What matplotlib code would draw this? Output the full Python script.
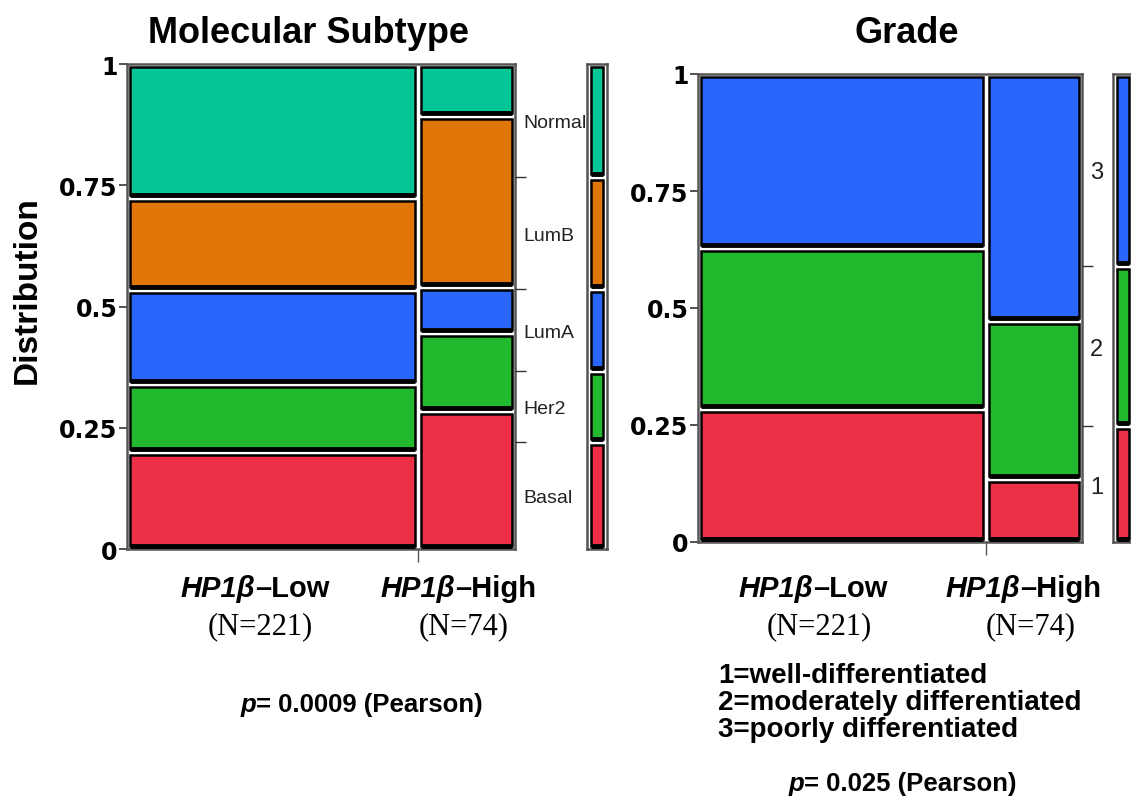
import numpy as np
import matplotlib
matplotlib.use("Agg")
import matplotlib.pyplot as plt

plt.rcParams["font.family"] = ["Liberation Sans", "DejaVu Sans"]

# counts per column (HP1b-Low, HP1b-High), stacked bottom -> top
group_n = np.array([221, 74])
subtype_names = ["Basal", "Her2", "LumA", "LumB", "Normal"]
subtype_low = [44, 31, 43, 42, 61]
subtype_high = [21, 12, 7, 26, 8]
grade_names = ["1", "2", "3"]
grade_low = [63, 76, 82]
grade_high = [10, 25, 39]

subtype_colors = ["#ee3046", "#22b92f", "#2866fc", "#e27507", "#03c595"]
grade_colors = ["#ee3046", "#22b92f", "#2866fc"]

yticks = [0, 0.25, 0.5, 0.75, 1]
yticklabels = ["0", "0.25", "0.5", "0.75", "1"]

W, H = 1131, 804
fig = plt.figure(figsize=(W / 100, H / 100), dpi=100)


def px_rect(l, t, r, b):
    return [l / W, 1 - b / H, (r - l) / W, (b - t) / H]


def fx(x):
    return x / W


def fy(y):
    return 1 - y / H


def style_frame(ax):
    for s in ax.spines.values():
        s.set_color("#555555")
        s.set_linewidth(1.8)
    ax.set_xlim(0, 1)
    ax.set_ylim(0, 1)


def draw_cell(ax, x0, w, y0, h, color, gx, gy):
    ax.bar(x0 + gx, h - 2 * gy, width=w - 2 * gx, bottom=y0 + gy, align="edge",
           color=color, edgecolor="black", linewidth=1.8, zorder=2)
    ax.plot([x0 + gx, x0 + w - gx], [y0 + gy, y0 + gy], color="black",
            lw=3.5, solid_capstyle="butt", zorder=3)


def mosaic(ax, columns, colors, names, pxw, pxh, label_size):
    style_frame(ax)
    gx = 3.0 / pxw
    gy = 3.0 / pxh
    widths = group_n / group_n.sum()
    x0 = 0
    for j, col in enumerate(columns):
        fr = np.array(col) / np.sum(col)
        y0 = 0
        for i, f in enumerate(fr):
            draw_cell(ax, x0, widths[j], y0, f, colors[i], gx, gy)
            y0 += f
        x0 += widths[j]

    ax.set_yticks(yticks)
    ax.set_yticklabels(yticklabels, fontfamily="DejaVu Sans", fontweight="bold", fontsize=17)
    ax.tick_params(axis="y", length=6, width=1.2, color="#333333", pad=1)
    ax.set_xticks([widths[0]])
    ax.set_xticklabels([])
    ax.tick_params(axis="x", length=9, width=1.0, color="#555555")

    # overall margins for right-side labels
    total = np.sum(columns, axis=0)
    marg = total / total.sum()
    cum = np.cumsum(marg)
    mids = cum - marg / 2
    ax_r = ax.twinx()
    ax_r.set_ylim(0, 1)
    for s in ax_r.spines.values():
        s.set_visible(False)
    ax_r.set_yticks(cum[:-1])
    ax_r.set_yticklabels([])
    ax_r.tick_params(axis="y", which="major", length=8, width=1.0, color="#333333")
    ax_r.set_yticks(mids, minor=True)
    ax_r.set_yticklabels(names, minor=True, fontsize=label_size, color="#222222")
    ax_r.tick_params(axis="y", which="minor", length=0, pad=6)
    return marg


def strip(ax, marg, colors, pxw, pxh):
    style_frame(ax)
    ax.set_xticks([])
    ax.set_yticks([])
    gx = 4.0 / pxw
    gy = 3.0 / pxh
    y0 = 0
    for i, f in enumerate(marg):
        draw_cell(ax, 0, 1, y0, f, colors[i], gx, gy)
        y0 += f


# left panel: molecular subtype
ax1 = fig.add_axes(px_rect(127, 65, 515, 550))
m1 = mosaic(ax1, [subtype_low, subtype_high], subtype_colors, subtype_names, 388, 485, 14)
s1 = fig.add_axes(px_rect(587, 65, 607, 550))
strip(s1, m1, subtype_colors, 20, 485)

# right panel: grade
ax2 = fig.add_axes(px_rect(698, 75, 1082, 543))
m2 = mosaic(ax2, [grade_low, grade_high], grade_colors, grade_names, 384, 468, 17)
s2 = fig.add_axes(px_rect(1113, 75, 1133, 543))
strip(s2, m2, grade_colors, 20, 468)

# titles and axis label
fig.text(fx(308), fy(43), "Molecular Subtype", ha="center", va="baseline",
         fontsize=26, fontweight="bold")
fig.text(fx(907), fy(43), "Grade", ha="center", va="baseline",
         fontsize=26, fontweight="bold")
fig.text(fx(27), fy(290), "Distribution", ha="center", va="center", rotation=90,
         fontsize=24, fontweight="bold")

# group labels
for split, rest in [(255, "–Low"), (455, "–High"), (813, "–Low"), (1020, "–High")]:
    fig.text(fx(split), fy(597), "HP1β", ha="right", va="baseline", fontsize=21,
             fontweight="bold", fontstyle="italic")
    fig.text(fx(split), fy(597), rest, ha="left", va="baseline", fontsize=21,
             fontweight="bold")
for cx, lab in [(260, "(N=221)"), (464, "(N=74)"), (819, "(N=221)"), (1031, "(N=74)")]:
    fig.text(fx(cx), fy(634), lab, ha="center", va="baseline", fontsize=22,
             fontfamily="Liberation Serif")

# p values
for split, by, rest in [(256, 712, "= 0.0009 (Pearson)"), (804, 791, "= 0.025 (Pearson)")]:
    fig.text(fx(split), fy(by), "p", ha="right", va="baseline", fontsize=18.5,
             fontweight="bold", fontstyle="italic")
    fig.text(fx(split), fy(by), rest, ha="left", va="baseline", fontsize=18.5,
             fontweight="bold")

# grade legend
legend_lines = ["1=well-differentiated", "2=moderately differentiated", "3=poorly differentiated"]
for k, line in enumerate(legend_lines):
    fig.text(fx(718), fy(683 + 27 * k), line, ha="left", va="baseline", fontsize=20,
             fontweight="bold")

fig.savefig("out.png", dpi=100)
